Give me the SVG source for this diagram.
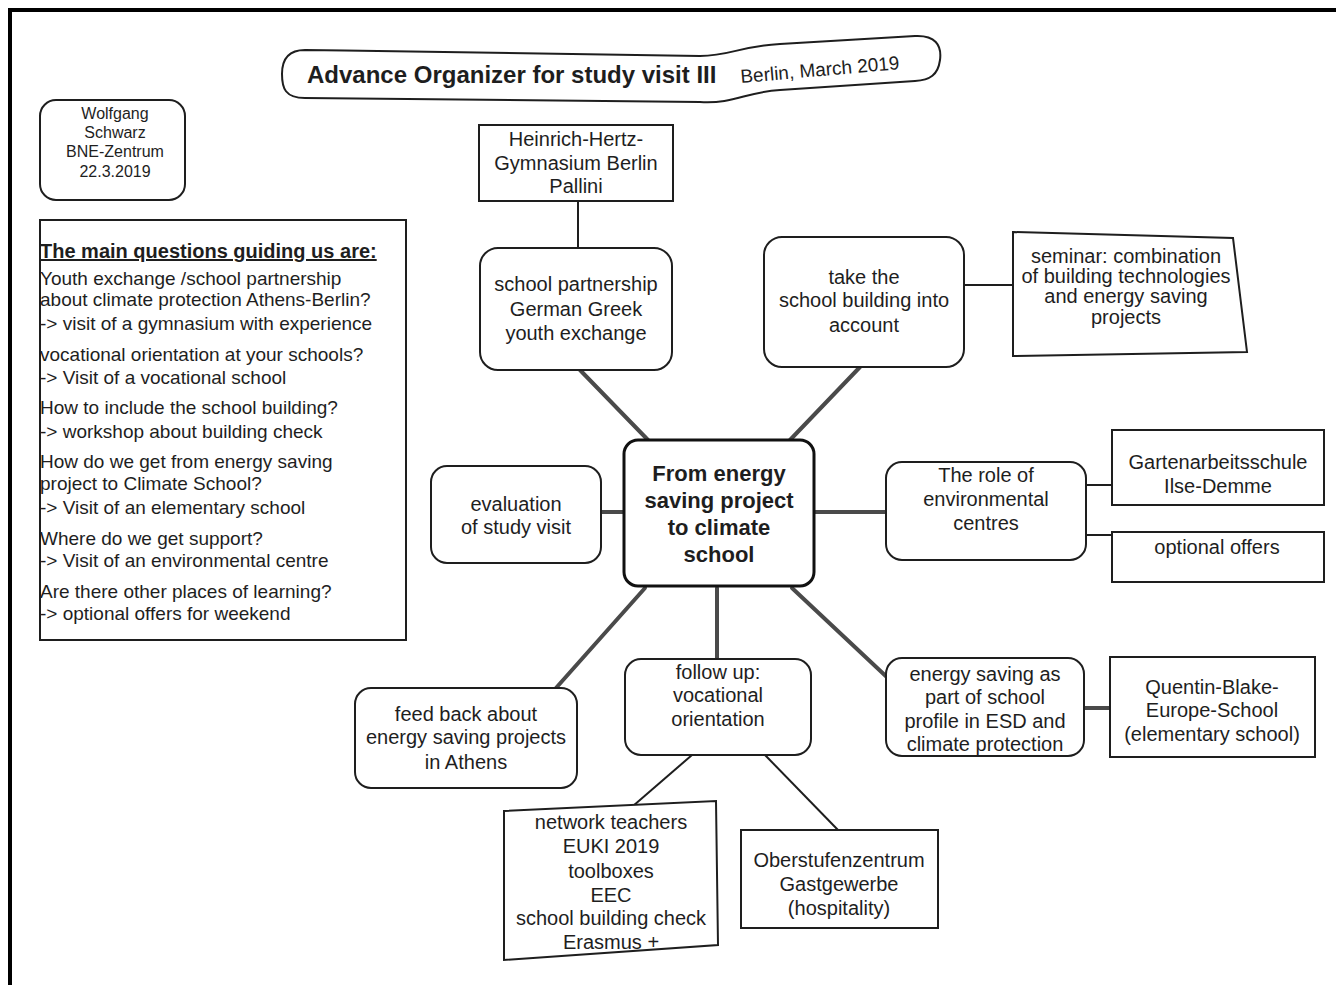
<svg xmlns="http://www.w3.org/2000/svg" width="1336" height="985" viewBox="0 0 1336 985">
<style>
text{font-family:"Liberation Sans",Arial,sans-serif;fill:#1e1e1e;}
.n{font-size:20px;text-anchor:middle;}
.s{font-size:16px;text-anchor:middle;}
.b{font-size:22px;font-weight:bold;text-anchor:middle;}
.q{font-size:19px;}
.box{fill:#fff;stroke:#1e1e1e;stroke-width:2;}
.spoke{stroke:#4a4a4a;stroke-width:4;fill:none;stroke-linecap:round;}
.thin{stroke:#1e1e1e;stroke-width:2;fill:none;}
</style>
<rect x="0" y="0" width="1336" height="985" fill="#fff"/>
<rect x="10" y="10" width="1340" height="1000" fill="none" stroke="#000" stroke-width="4"/>

<g id="title">
<path class="box" d="M305,50 C450,52 600,54 700,56 C730,56 740,46 780,44 L915,36 C935,35 942,45 940,60 C938,75 930,80 915,81 L780,90 C745,92 735,104 700,102 L305,98 C285,98 282,88 282,74 C282,58 290,50 305,50 Z"/>
<text x="307" y="83" font-size="24" font-weight="bold">Advance Organizer for study visit III</text>
<text x="741" y="83" font-size="19" transform="rotate(-5 741 83)">Berlin, March 2019</text>
</g>

<g id="author">
<rect class="box" x="40" y="100" width="145" height="100" rx="16"/>
<text class="s" x="115" y="119">Wolfgang</text>
<text class="s" x="115" y="138">Schwarz</text>
<text class="s" x="115" y="157">BNE-Zentrum</text>
<text class="s" x="115" y="177">22.3.2019</text>
</g>

<g id="questions">
<rect class="box" x="40" y="220" width="366" height="420"/>
<text x="40" y="258" font-size="20" font-weight="bold" text-decoration="underline">The main questions guiding us are:</text>
<text class="q" x="40" y="285">Youth exchange /school partnership</text>
<text class="q" x="40" y="306">about climate protection Athens-Berlin?</text>
<text class="q" x="40" y="330">-&gt; visit of a gymnasium with experience</text>
<text class="q" x="40" y="361">vocational orientation at your schools?</text>
<text class="q" x="40" y="384">-&gt; Visit of a vocational school</text>
<text class="q" x="40" y="414">How to include the school building?</text>
<text class="q" x="40" y="438">-&gt; workshop about building check</text>
<text class="q" x="40" y="468">How do we get from energy saving</text>
<text class="q" x="40" y="490">project to Climate School?</text>
<text class="q" x="40" y="514">-&gt; Visit of an elementary school</text>
<text class="q" x="40" y="545">Where do we get support?</text>
<text class="q" x="40" y="567">-&gt; Visit of an environmental centre</text>
<text class="q" x="40" y="598">Are there other places of learning?</text>
<text class="q" x="40" y="620">-&gt; optional offers for weekend</text>
</g>

<g id="connectors">
<line class="thin" x1="578" y1="201" x2="578" y2="248"/>
<line class="thin" x1="964" y1="285" x2="1013" y2="285"/>
<line class="spoke" x1="580" y1="370" x2="648" y2="440"/>
<line class="spoke" x1="860" y1="367" x2="790" y2="440"/>
<line class="spoke" x1="601" y1="512" x2="624" y2="512"/>
<line class="spoke" x1="814" y1="512" x2="886" y2="512"/>
<line class="spoke" x1="645" y1="588" x2="556" y2="688"/>
<line class="spoke" x1="717" y1="588" x2="717" y2="659"/>
<line class="spoke" x1="792" y1="588" x2="890" y2="680"/>
<line class="thin" x1="1086" y1="485" x2="1112" y2="485"/>
<line class="thin" x1="1086" y1="535" x2="1112" y2="535"/>
<line class="spoke" x1="1084" y1="708" x2="1110" y2="708"/>
<line class="thin" x1="692" y1="755" x2="633" y2="806"/>
<line class="thin" x1="765" y1="755" x2="838" y2="830"/>
</g>

<g id="heinrich-hertz">
<rect class="box" x="479" y="125" width="194" height="76"/>
<text class="n" x="576" y="146">Heinrich-Hertz-</text>
<text class="n" x="576" y="170">Gymnasium Berlin</text>
<text class="n" x="576" y="193">Pallini</text>
</g>

<g id="school-partnership">
<rect class="box" x="480" y="248" width="192" height="122" rx="18"/>
<text class="n" x="576" y="291">school partnership</text>
<text class="n" x="576" y="316">German Greek</text>
<text class="n" x="576" y="340">youth exchange</text>
</g>

<g id="school-building">
<rect class="box" x="764" y="237" width="200" height="130" rx="18"/>
<text class="n" x="864" y="284">take the</text>
<text class="n" x="864" y="307">school building into</text>
<text class="n" x="864" y="332">account</text>
</g>

<g id="seminar">
<path class="box" d="M1013,232 L1233,238 L1247,352 L1013,356 Z"/>
<text class="n" x="1126" y="263">seminar: combination</text>
<text class="n" x="1126" y="283">of building technologies</text>
<text class="n" x="1126" y="303">and energy saving</text>
<text class="n" x="1126" y="324">projects</text>
</g>

<g id="center">
<rect x="624" y="440" width="190" height="146" rx="14" fill="#fff" stroke="#111" stroke-width="3"/>
<text class="b" x="719" y="481">From energy</text>
<text class="b" x="719" y="508">saving project</text>
<text class="b" x="719" y="535">to climate</text>
<text class="b" x="719" y="562">school</text>
</g>

<g id="evaluation">
<rect class="box" x="431" y="466" width="170" height="97" rx="16"/>
<text class="n" x="516" y="511">evaluation</text>
<text class="n" x="516" y="534">of study visit</text>
</g>

<g id="environmental-centres">
<rect class="box" x="886" y="462" width="200" height="98" rx="16"/>
<text class="n" x="986" y="482">The role of</text>
<text class="n" x="986" y="506">environmental</text>
<text class="n" x="986" y="530">centres</text>
</g>

<g id="gartenarbeitsschule">
<rect class="box" x="1112" y="430" width="212" height="75"/>
<text class="n" x="1218" y="469">Gartenarbeitsschule</text>
<text class="n" x="1218" y="493">Ilse-Demme</text>
</g>

<g id="optional-offers">
<rect class="box" x="1112" y="532" width="212" height="50"/>
<text class="n" x="1217" y="554">optional offers</text>
</g>

<g id="energy-saving-profile">
<rect class="box" x="886" y="658" width="198" height="98" rx="16"/>
<text class="n" x="985" y="681">energy saving as</text>
<text class="n" x="985" y="704">part of school</text>
<text class="n" x="985" y="728">profile in ESD and</text>
<text class="n" x="985" y="751">climate protection</text>
</g>

<g id="quentin-blake">
<rect class="box" x="1110" y="657" width="205" height="100"/>
<text class="n" x="1212" y="694">Quentin-Blake-</text>
<text class="n" x="1212" y="717">Europe-School</text>
<text class="n" x="1212" y="741">(elementary school)</text>
</g>

<g id="feed-back">
<rect class="box" x="355" y="688" width="222" height="100" rx="16"/>
<text class="n" x="466" y="721">feed back about</text>
<text class="n" x="466" y="744">energy saving projects</text>
<text class="n" x="466" y="769">in Athens</text>
</g>

<g id="follow-up">
<rect class="box" x="625" y="659" width="186" height="96" rx="16"/>
<text class="n" x="718" y="679">follow up:</text>
<text class="n" x="718" y="702">vocational</text>
<text class="n" x="718" y="726">orientation</text>
</g>

<g id="network">
<path class="box" d="M504,811 L716,801 L718,945 L504,960 Z"/>
<text class="n" x="611" y="829">network teachers</text>
<text class="n" x="611" y="853">EUKI 2019</text>
<text class="n" x="611" y="878">toolboxes</text>
<text class="n" x="611" y="902">EEC</text>
<text class="n" x="611" y="925">school building check</text>
<text class="n" x="611" y="949">Erasmus +</text>
</g>

<g id="oberstufenzentrum">
<rect class="box" x="741" y="830" width="197" height="98"/>
<text class="n" x="839" y="867">Oberstufenzentrum</text>
<text class="n" x="839" y="891">Gastgewerbe</text>
<text class="n" x="839" y="915">(hospitality)</text>
</g>
</svg>
